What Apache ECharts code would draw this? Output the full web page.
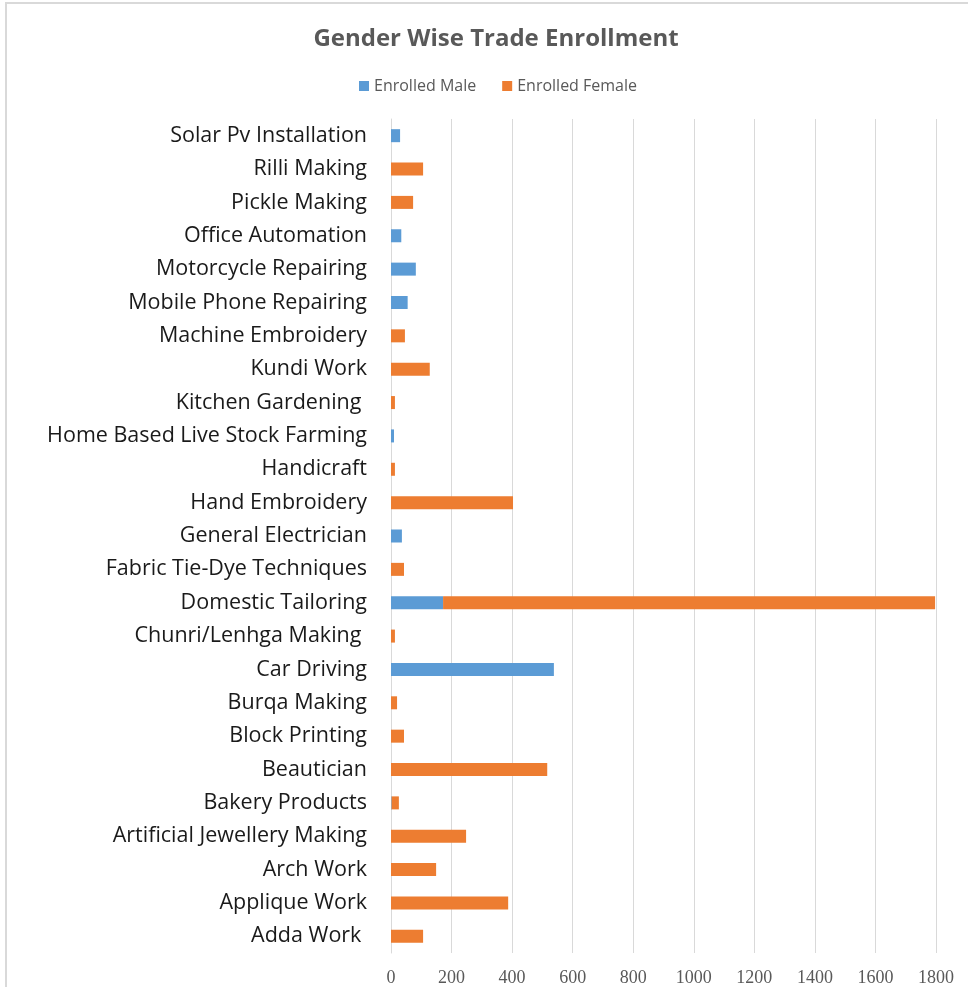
<!DOCTYPE html>
<html>
<head>
<meta charset="utf-8">
<title>Gender Wise Trade Enrollment</title>
<script src="https://cdn.jsdelivr.net/npm/echarts@6/dist/echarts.min.js"></script>
<style>
  html, body { margin: 0; padding: 0; background: #fff; }
  #chart { width: 968px; height: 987px; }
</style>
</head>
<body>
<div id="chart"></div>
<script>
// trades, bottom to top as drawn
const trades = [
  "Adda Work ", "Applique Work", "Arch Work", "Artificial Jewellery Making",
  "Bakery Products", "Beautician", "Block Printing", "Burqa Making",
  "Car Driving", "Chunri/Lenhga Making ", "Domestic Tailoring",
  "Fabric Tie-Dye Techniques", "General Electrician", "Hand Embroidery",
  "Handicraft", "Home Based Live Stock Farming", "Kitchen Gardening ",
  "Kundi Work", "Machine Embroidery", "Mobile Phone Repairing",
  "Motorcycle Repairing", "Office Automation", "Pickle Making",
  "Rilli Making", "Solar Pv Installation"
];
const enrolledMale = [
  0, 0, 0, 0, 2, 0, 0, 0, 538, 0, 172, 0, 36, 0, 0, 10, 0, 0, 0, 55, 82, 34, 0, 0, 30
];
const enrolledFemale = [
  106, 387, 149, 248, 24, 516, 43, 20, 0, 13, 1625, 43, 0, 403, 13, 0, 13, 128, 46, 0, 0, 0, 73, 106, 0
];
const xTicks = [0, 200, 400, 600, 800, 1000, 1200, 1400, 1600, 1800];

const chart = echarts.init(document.getElementById("chart"));
const option = {
  backgroundColor: "#ffffff",
  animation: false,
  title: {
    text: "Gender Wise Trade Enrollment",
    left: 491,
    textAlign: "center",
    top: 22,
    textStyle: { fontFamily: "Open Sans", fontSize: 24, fontWeight: "bold", color: "#595959" }
  },
  legend: {
    data: ["Enrolled Male", "Enrolled Female"],
    top: 73,
    left: 354,
    itemWidth: 10,
    itemHeight: 10,
    itemGap: 26,
    icon: "rect",
    textStyle: { fontFamily: "Open Sans", fontSize: 16, color: "#595959" }
  },
  graphic: [
    {
      type: "polyline",
      shape: { points: [[6, 987], [6, 3], [968, 3]] },
      style: { stroke: "#d9d9d9", lineWidth: 2, fill: null },
      silent: true
    }
  ],
  grid: { left: 391, right: 32, top: 119, bottom: 33, containLabel: false },
  xAxis: {
    type: "value",
    min: xTicks[0],
    max: xTicks[xTicks.length - 1],
    interval: 200,
    axisLine: { show: false },
    axisTick: { show: false },
    splitLine: { lineStyle: { color: "#d9d9d9", width: 1 } },
    axisLabel: {
      fontFamily: "Liberation Serif",
      fontSize: 18,
      color: "#595959",
      margin: 16,
      formatter: function (v) { return String(v); }
    }
  },
  yAxis: {
    type: "category",
    data: trades,
    axisLine: { show: true, lineStyle: { color: "#d9d9d9" } },
    axisTick: { show: false },
    axisLabel: {
      fontFamily: "Open Sans",
      fontSize: 21.5,
      color: "#1a1a1a",
      margin: 24,
      padding: [5, 0, 0, 0]
    }
  },
  series: [
    {
      name: "Enrolled Male",
      type: "bar",
      stack: "total",
      data: enrolledMale,
      barWidth: 13,
      itemStyle: { color: "#5b9bd5" }
    },
    {
      name: "Enrolled Female",
      type: "bar",
      stack: "total",
      data: enrolledFemale,
      barWidth: 13,
      itemStyle: { color: "#ed7d31" }
    }
  ]
};
chart.setOption(option);
window.addEventListener("resize", function () {
  chart.resize();
});
</script>
</body>
</html>
